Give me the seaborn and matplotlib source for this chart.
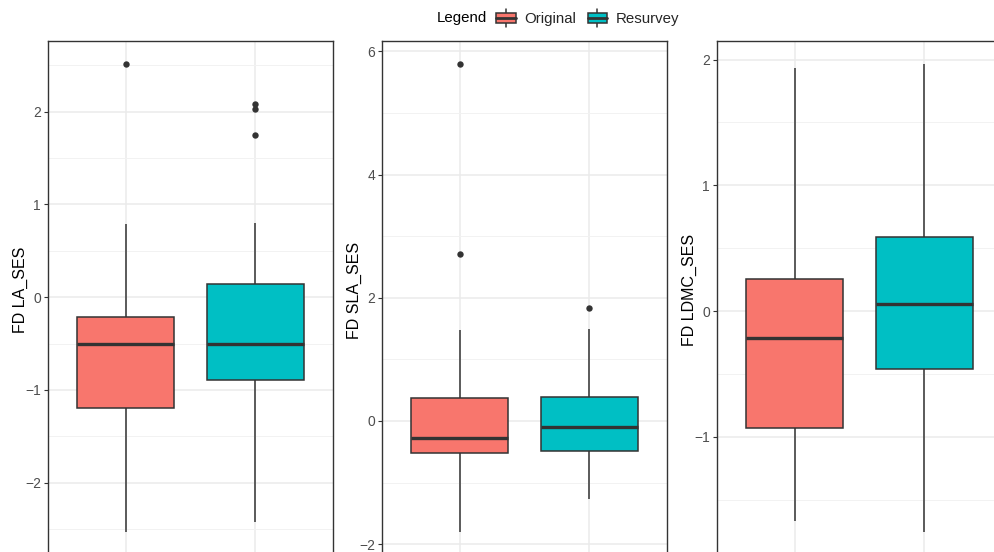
import numpy as np
import pandas as pd
import seaborn as sns
import matplotlib.pyplot as plt
from matplotlib.legend_handler import HandlerBase
from matplotlib.patches import Rectangle, Patch
from matplotlib.lines import Line2D
from matplotlib.ticker import FixedLocator

# Survey groups and fill colours
groups = ["Original", "Resurvey"]
palette = {"Original": "#F8766D", "Resurvey": "#00BFC4"}

# Per-site SES values for each trait and survey
la_original = [-2.526, -1.191, -1.191, -0.506, -0.506, -0.212, -0.212, 0.786, 2.508]
la_resurvey = [-2.418, -0.890, -0.890, -0.890, -0.890, -0.509, -0.509, -0.509, -0.509,
               0.140, 0.140, 0.140, 0.140, 0.800, 1.744, 2.024, 2.085]

sla_original = [-1.797, -0.519, -0.519, -0.519, -0.276, -0.276, -0.276,
                0.368, 0.368, 0.368, 1.477, 2.716, 5.790]
sla_resurvey = [-1.271, -0.482, -0.482, -0.092, -0.092, 0.395, 0.395, 1.493, 1.829]

ldmc_original = [-1.671, -0.927, -0.217, 0.252, 1.935]
ldmc_resurvey = [-1.753, -0.458, 0.056, 0.590, 1.962]

# Axis titles and y tick positions
y_titles = ["FD LA_SES", "FD SLA_SES", "FD LDMC_SES"]
major_ticks = [[-2, -1, 0, 1, 2], [-2, 0, 2, 4, 6], [-1, 0, 1, 2]]
minor_ticks = [[-2.5, -1.5, -0.5, 0.5, 1.5, 2.5], [-1, 1, 3, 5], [-1.5, -0.5, 0.5, 1.5]]
series = [(la_original, la_resurvey), (sla_original, sla_resurvey), (ldmc_original, ldmc_resurvey)]

sns.set_theme(style="white")
plt.rcParams["font.family"] = ["Liberation Sans", "DejaVu Sans"]

W, H = 994, 552
fig = plt.figure(figsize=(W / 100, H / 100), dpi=100, facecolor="white")

panel_left = [48, 382, 717]
panel_w = 285
panel_top, panel_bottom = 41, 555

dark = "#333333"

for i in range(3):
    left = panel_left[i]
    ax = fig.add_axes([left / W, (H - panel_bottom) / H, panel_w / W, (panel_bottom - panel_top) / H])
    orig, resv = series[i]
    df = pd.DataFrame({
        "survey": ["Original"] * len(orig) + ["Resurvey"] * len(resv),
        "value": list(orig) + list(resv),
    })
    sns.boxplot(
        data=df, x="survey", y="value", hue="survey", order=groups, hue_order=groups,
        palette=palette, width=0.75, whis=1.5, showcaps=False, dodge=False,
        linecolor=dark, linewidth=1.1, legend=False, saturation=1,
        medianprops={"linewidth": 2.4, "color": dark},
        whiskerprops={"linewidth": 1.1, "color": dark},
        flierprops={"marker": "o", "markersize": 4.6, "markerfacecolor": dark,
                    "markeredgecolor": dark, "markeredgewidth": 0},
        ax=ax,
    )
    vals = df["value"]
    lo, hi = vals.min(), vals.max()
    pad = (hi - lo) * 0.05
    ax.set_ylim(lo - pad, hi + pad)
    ax.set_xlim(-0.6, 1.6)

    ax.set_axisbelow(True)
    ax.yaxis.set_major_locator(FixedLocator(major_ticks[i]))
    ax.yaxis.set_minor_locator(FixedLocator(minor_ticks[i]))
    ax.grid(True, which="major", axis="both", color="#EBEBEB", linewidth=1.1)
    ax.grid(True, which="minor", axis="y", color="#F2F2F2", linewidth=0.7)
    ax.tick_params(axis="y", which="major", length=3, width=0.8, color=dark,
                   labelsize=10, labelcolor="#4D4D4D", pad=2, left=True)
    ax.tick_params(axis="y", which="minor", length=0)
    ax.tick_params(axis="x", labelbottom=False, bottom=False)
    ax.set_xlabel("")
    ax.set_ylabel(y_titles[i], fontsize=11.5, color="black")
    ax.yaxis.set_label_coords(-20 / panel_w, (panel_bottom - 290) / (panel_bottom - panel_top))
    for sp in ax.spines.values():
        sp.set_visible(True)
        sp.set_color(dark)
        sp.set_linewidth(1.0)


class BoxKeyHandler(HandlerBase):
    """Draws a small boxplot glyph as a legend key."""

    def create_artists(self, legend, orig_handle, xdescent, ydescent, width, height, fontsize, trans):
        fc = orig_handle.get_facecolor()
        x0, y0 = -xdescent, -ydescent
        cx = x0 + width / 2
        bh = height * 0.61
        by = y0 + (height - bh) / 2
        wlo = Line2D([cx, cx], [y0, by], color=dark, lw=1.1, transform=trans)
        whi = Line2D([cx, cx], [by + bh, y0 + height], color=dark, lw=1.1, transform=trans)
        rect = Rectangle((x0, by), width, bh, facecolor=fc, edgecolor=dark, lw=1.1, transform=trans)
        med = Line2D([x0, x0 + width], [by + bh / 2] * 2, color=dark, lw=2.0, transform=trans)
        return [wlo, whi, rect, med]


legend_y = 1 - 18 / H
fig.text(437 / W, legend_y, "Legend", ha="left", va="center", fontsize=10.8, color="black")
handles = [Patch(facecolor=palette[g]) for g in groups]
fig.legend(handles=handles, labels=groups, handler_map={Patch: BoxKeyHandler()},
           loc="center left", bbox_to_anchor=(496 / W, legend_y), ncol=2, frameon=False,
           fontsize=10.8, handlelength=1.3, handleheight=1.47, handletextpad=0.6,
           columnspacing=0.75, borderpad=0, borderaxespad=0)

fig.savefig("out.png", dpi=100, facecolor="white")
